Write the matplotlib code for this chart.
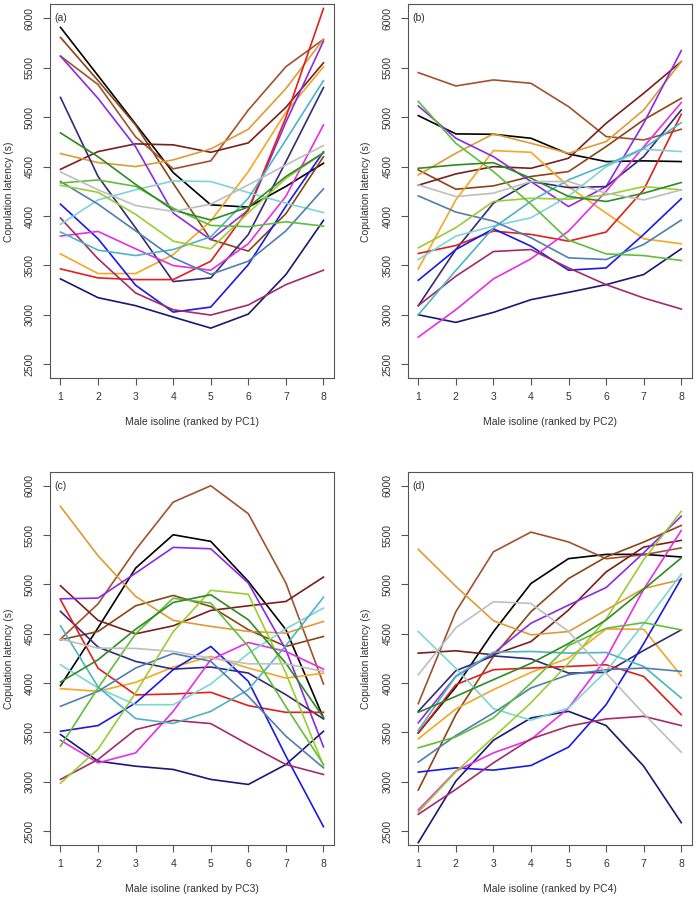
import matplotlib
matplotlib.use("Agg")
import matplotlib.pyplot as plt

plt.rcParams['font.family'] = ['Liberation Sans', 'DejaVu Sans']

isolines = [1, 2, 3, 4, 5, 6, 7, 8]

# one colour per female isoline, same order as the rows below
line_colors = ['#000000', '#8B4513', '#A0522D', '#7A1E1E', '#DE9B35', '#F5A623',
               '#8A2BE2', '#35297A', '#191970', '#E0201B', '#1A1AE6', '#E62EE6',
               '#A52A6A', '#7FD4D4', '#4CB5C5', '#4F7FB0', '#9ACD32', '#5FBF3A',
               '#2E8B22', '#BEBEBE']

pc1_latency = [
    [5909, 5420, 4930, 4440, 4113, 4090, 4300, 4534],
    [5807, 5370, 4920, 4330, 3763, 3645, 4024, 4600],
    [5618, 5330, 4800, 4477, 4558, 5073, 5511, 5788],
    [4473, 4652, 4730, 4720, 4645, 4740, 5100, 5550],
    [4632, 4541, 4500, 4568, 4679, 4878, 5290, 5790],
    [3617, 3418, 3418, 3610, 3950, 4450, 5050, 5510],
    [5618, 5190, 4700, 4030, 3760, 4060, 4950, 5770],
    [5200, 4400, 3880, 3337, 3374, 3814, 4550, 5300],
    [3364, 3174, 3093, 2978, 2866, 3008, 3408, 3956],
    [3465, 3374, 3357, 3357, 3543, 4068, 5000, 6100],
    [4120, 3770, 3300, 3028, 3079, 3509, 4100, 4650],
    [3797, 3844, 3668, 3499, 3452, 3720, 4200, 4922],
    [3980, 3567, 3221, 3052, 2998, 3100, 3306, 3452],
    [3916, 4163, 4265, 4355, 4349, 4237, 4130, 4035],
    [3838, 3655, 3600, 3661, 3790, 4180, 4770, 5370],
    [4350, 4120, 3850, 3577, 3410, 3543, 3850, 4275],
    [4311, 4240, 4017, 3746, 3668, 4034, 4380, 4640],
    [4334, 4365, 4300, 4080, 3905, 3892, 3942, 3898],
    [4841, 4600, 4320, 4060, 3960, 4090, 4400, 4640],
    [4446, 4265, 4106, 4046, 4120, 4315, 4517, 4713],
]

pc2_latency = [
    [5016, 4831, 4827, 4787, 4628, 4551, 4558, 4551],
    [4467, 4271, 4305, 4400, 4450, 4703, 4973, 5191],
    [5451, 5316, 5377, 5343, 5107, 4804, 4770, 4878],
    [4312, 4426, 4500, 4483, 4585, 4938, 5242, 5562],
    [4416, 4635, 4831, 4736, 4635, 4753, 5073, 5562],
    [3465, 4163, 4662, 4645, 4298, 4030, 3770, 3719],
    [5114, 4787, 4601, 4349, 4096, 4298, 4938, 5673],
    [3093, 3661, 4130, 4349, 4288, 4298, 4601, 5073],
    [3001, 2924, 3025, 3154, 3228, 3306, 3408, 3668],
    [3621, 3702, 3848, 3814, 3746, 3838, 4265, 5029],
    [3350, 3661, 3871, 3695, 3452, 3475, 3814, 4175],
    [2775, 3052, 3364, 3567, 3848, 4250, 4700, 5147],
    [3093, 3391, 3641, 3661, 3475, 3306, 3171, 3059],
    [3560, 3797, 3898, 3983, 4200, 4500, 4676, 4652],
    [3000, 3450, 3880, 4150, 4366, 4517, 4686, 4945],
    [4204, 4040, 3949, 3780, 3577, 3560, 3712, 3959],
    [3678, 3882, 4147, 4180, 4170, 4214, 4298, 4265],
    [5160, 4736, 4450, 4120, 3756, 3617, 3600, 3550],
    [4483, 4517, 4540, 4383, 4198, 4147, 4231, 4339],
    [4315, 4197, 4231, 4349, 4349, 4231, 4163, 4265],
]

pc3_latency = [
    [3973, 4560, 5165, 5503, 5436, 5030, 4540, 3646],
    [4438, 4523, 4783, 4888, 4776, 4540, 4371, 4472],
    [4445, 4803, 5351, 5834, 6000, 5716, 5013, 3990],
    [4986, 4635, 4499, 4580, 4736, 4783, 4827, 5074],
    [5790, 5290, 4878, 4635, 4574, 4523, 4506, 4624],
    [3943, 3916, 4007, 4162, 4270, 4152, 4050, 4100],
    [4854, 4861, 5114, 5375, 5361, 5013, 4337, 3353],
    [4726, 4364, 4219, 4141, 4162, 4101, 3882, 3636],
    [3478, 3208, 3157, 3124, 3023, 2972, 3174, 3511],
    [4844, 4150, 3880, 3889, 3906, 3771, 3703, 3703],
    [3511, 3569, 3798, 4135, 4371, 4017, 3259, 2544],
    [3420, 3191, 3292, 3713, 4236, 4411, 4320, 4141],
    [3023, 3225, 3528, 3622, 3589, 3377, 3174, 3073],
    [4185, 3950, 3780, 3780, 3990, 4300, 4550, 4760],
    [4580, 3960, 3640, 3590, 3713, 3933, 4380, 4870],
    [3764, 3916, 4152, 4300, 4220, 3865, 3461, 3140],
    [2985, 3330, 3900, 4520, 4940, 4900, 4100, 3160],
    [3360, 3950, 4500, 4860, 4810, 4370, 3760, 3175],
    [4010, 4236, 4545, 4817, 4895, 4641, 4200, 3650],
    [4445, 4354, 4351, 4320, 4253, 4195, 4195, 4118],
]

pc4_latency = [
    [3494, 3960, 4520, 5009, 5261, 5304, 5304, 5278],
    [2915, 3680, 4270, 4723, 5059, 5278, 5429, 5597],
    [3791, 4723, 5330, 5530, 5430, 5260, 5300, 5370],
    [4303, 4327, 4286, 4420, 4740, 5126, 5378, 5446],
    [5355, 4980, 4632, 4488, 4522, 4740, 4958, 5049],
    [3434, 3737, 3933, 4108, 4253, 4548, 4545, 4074],
    [3596, 4067, 4300, 4606, 4790, 4968, 5320, 5691],
    [3713, 4125, 4275, 4245, 4101, 4108, 4330, 4539],
    [2382, 3006, 3420, 3646, 3713, 3569, 3157, 2585],
    [3494, 3983, 4135, 4152, 4168, 4185, 4067, 3680],
    [3097, 3140, 3117, 3164, 3350, 3781, 4400, 5059],
    [2713, 3107, 3292, 3427, 3747, 4250, 4950, 5546],
    [2669, 2922, 3191, 3434, 3562, 3636, 3663, 3569],
    [4522, 4150, 3740, 3623, 3747, 4120, 4600, 5103],
    [3520, 4070, 4313, 4320, 4303, 4310, 4168, 3848],
    [3198, 3467, 3697, 3950, 4084, 4135, 4152, 4118],
    [2690, 3100, 3450, 3800, 4200, 4650, 5250, 5740],
    [3343, 3454, 3646, 4000, 4380, 4555, 4612, 4539],
    [3703, 3865, 4034, 4200, 4400, 4640, 4950, 5268],
    [4084, 4560, 4824, 4807, 4522, 4100, 3690, 3299],
]

panels = [
    ("(a)", "PC1", pc1_latency, [0.0717, 0.5787, 0.4075, 0.4165]),
    ("(b)", "PC2", pc2_latency, [0.585, 0.5787, 0.4075, 0.4165]),
    ("(c)", "PC3", pc3_latency, [0.0717, 0.0590, 0.4075, 0.4157]),
    ("(d)", "PC4", pc4_latency, [0.585, 0.0590, 0.4075, 0.4157]),
]

fig = plt.figure(figsize=(6.97, 8.98), dpi=100)

for tag, pc, rows, rect in panels:
    ax = fig.add_axes(rect)
    for row, col in zip(rows, line_colors):
        ax.plot(isolines, row, color=col, lw=1.2)
    ax.set_xlim(0.72, 8.28)
    ax.set_ylim(2358, 6142)
    ax.set_xticks(isolines)
    ax.set_yticks([2500, 3000, 3500, 4000, 4500, 5000, 5500, 6000])
    ax.tick_params(labelsize=7.5, length=5, width=0.8, color='#555555',
                   labelcolor='#333333', pad=5)
    ax.tick_params(axis='y', pad=6)
    for lab in ax.get_yticklabels():
        lab.set_rotation(90)
        lab.set_va('center')
    for sp in ax.spines.values():
        sp.set_color('#555555')
        sp.set_linewidth(0.8)
    ax.text(1, 6000, tag, ha='center', va='center', fontsize=7.5, color='#333333')
    ax.set_xlabel("Male isoline (ranked by %s)" % pc, fontsize=7.5,
                  color='#333333', labelpad=11)
    ax.set_ylabel("Copulation latency (s)", fontsize=7.5, color='#333333',
                  labelpad=8)

fig.savefig("out.png", dpi=100)
